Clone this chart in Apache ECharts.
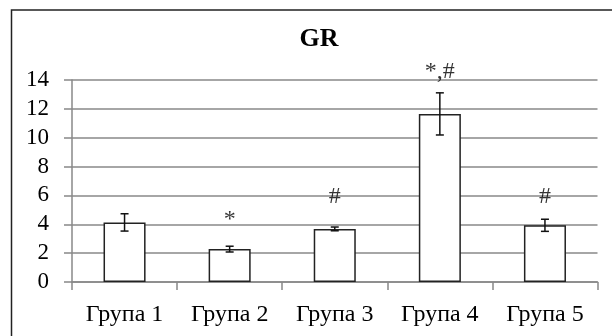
<!DOCTYPE html>
<html>
<head>
<meta charset="utf-8">
<script src="https://cdn.jsdelivr.net/npm/echarts@6/dist/echarts.min.js"></script>
<style>
html,body{margin:0;padding:0;background:#fff;}
#c{width:612px;height:336px;}
</style>
</head>
<body>
<div id="c"></div>
<script>
var categories = ['Група 1', 'Група 2', 'Група 3', 'Група 4', 'Група 5'];
var values = [4.13, 2.28, 3.68, 11.65, 3.93];
var errors = [0.6, 0.2, 0.13, 1.46, 0.42];
var marks = ['', '*', '#', '*,#', '#'];
var markLevels = [null, 4.3, 5.9, 14.55, 5.9];
var yTicks = [0, 2, 4, 6, 8, 10, 12, 14];

var FONT = '"Liberation Serif", "Times New Roman", serif';
var chart = echarts.init(document.getElementById('c'), null, {renderer: 'canvas'});

var errData = values.map(function (v, i) { return [i, v - errors[i], v + errors[i]]; });
var markData = [];
marks.forEach(function (m, i) { if (m) markData.push({value: [i, markLevels[i]], name: m}); });

chart.setOption({
  animation: false,
  backgroundColor: '#fff',
  title: {
    text: 'GR',
    left: 314,
    textAlign: 'center',
    top: 21,
    textStyle: {fontFamily: FONT, fontWeight: 'bold', fontSize: 26, color: '#000'}
  },
  graphic: [{
    type: 'rect',
    shape: {x: 11.5, y: 10, width: 900, height: 500},
    style: {fill: 'none', stroke: '#222', lineWidth: 1.5},
    z: 100
  }],
  grid: {left: 72, right: 14.5, top: 80, bottom: 54, containLabel: false},
  xAxis: {
    type: 'category',
    data: categories,
    axisLine: {lineStyle: {color: '#888', width: 1.5}},
    axisTick: {show: true, length: 8, lineStyle: {color: '#888', width: 1.5}},
    axisLabel: {fontFamily: FONT, fontSize: 24, color: '#000', margin: 21},
    splitLine: {show: false}
  },
  yAxis: {
    type: 'value',
    min: 0, max: 14, interval: 2,
    axisLine: {show: true, lineStyle: {color: '#888', width: 1.5}},
    axisTick: {show: true, length: 8, lineStyle: {color: '#888', width: 1.5}},
    axisLabel: {fontFamily: FONT, fontSize: 23, color: '#000', margin: 23,
      formatter: function (v) { return yTicks.indexOf(v) >= 0 ? String(v) : ''; }},
    splitLine: {show: true, lineStyle: {color: '#888', width: 1.5}}
  },
  series: [
    {
      type: 'bar',
      data: values,
      barWidth: '40%',
      itemStyle: {color: '#fff', borderColor: '#222', borderWidth: 1.5},
      z: 2
    },
    {
      type: 'custom',
      data: errData,
      z: 3,
      renderItem: function (params, api) {
        var x = api.value(0);
        var lo = api.coord([x, api.value(1)]);
        var hi = api.coord([x, api.value(2)]);
        var hw = 4;
        var st = {stroke: '#111', lineWidth: 1.5};
        return {
          type: 'group',
          children: [
            {type: 'line', shape: {x1: hi[0], y1: hi[1], x2: lo[0], y2: lo[1]}, style: st},
            {type: 'line', shape: {x1: hi[0] - hw, y1: hi[1], x2: hi[0] + hw, y2: hi[1]}, style: st},
            {type: 'line', shape: {x1: lo[0] - hw, y1: lo[1], x2: lo[0] + hw, y2: lo[1]}, style: st}
          ]
        };
      }
    },
    {
      type: 'scatter',
      data: markData,
      symbolSize: 0,
      clip: false,
      z: 4,
      label: {
        show: true,
        position: 'inside',
        formatter: function (p) { return p.name; },
        fontFamily: FONT, fontSize: 24, color: '#000'
      }
    }
  ]
});
</script>
</body>
</html>
